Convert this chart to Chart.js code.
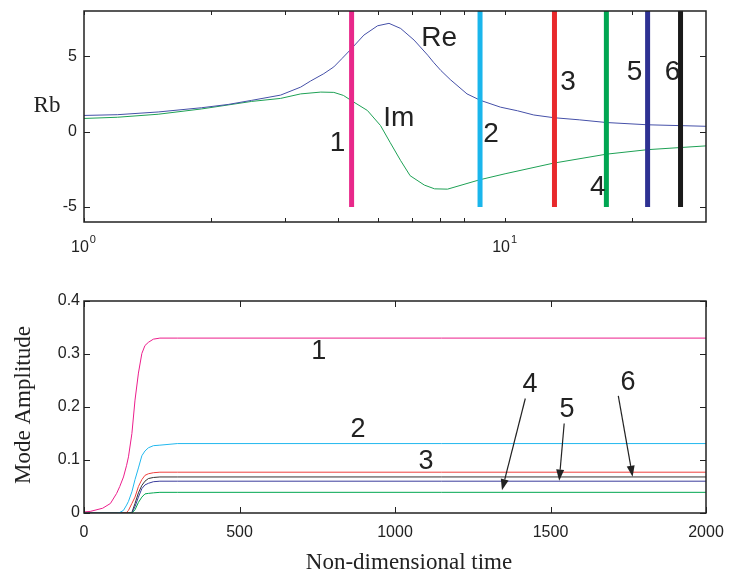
<!DOCTYPE html>
<html>
<head>
<meta charset="utf-8">
<script src="https://cdn.jsdelivr.net/npm/chart.js@4.4.1/dist/chart.umd.min.js"></script>
<style>
  body { margin: 0; background: #fff; }
  #wrap { position: relative; width: 732px; height: 584px; }
  canvas { position: absolute; left: 0; }
  #topChart { top: 0; }
  #bottomChart { top: 265px; }
</style>
</head>
<body>
<div id="wrap">
  <canvas id="topChart" width="732" height="265"></canvas>
  <canvas id="bottomChart" width="732" height="319"></canvas>
</div>
<script>
// ===============================
// DATA - top panel (Rb, log axis)
// ===============================
const reX = [1, 1.2, 1.5, 1.9, 2.2, 2.5, 2.93, 3.27, 3.45, 3.71, 3.92, 4.1, 4.3, 4.62, 4.98, 5.3, 5.65, 6.08, 6.55, 6.76, 7.04, 7.41, 8.12, 8.74, 9.75, 10.7, 11.7, 13.06, 15, 17.4, 21.8, 30];
const reY = [1.07, 1.12, 1.3, 1.58, 1.8, 2.07, 2.42, 2.95, 3.35, 3.84, 4.29, 4.85, 5.45, 6.4, 7.02, 7.18, 6.84, 6.07, 5.07, 4.6, 4.05, 3.45, 2.5, 2.07, 1.62, 1.38, 1.1, 0.92, 0.78, 0.6, 0.45, 0.35];
const imX = [1, 1.2, 1.5, 1.9, 2.5, 2.93, 3.27, 3.65, 3.92, 4.13, 4.37, 4.71, 5.06, 5.33, 5.65, 5.95, 6.43, 6.8, 7.3, 8.7, 10, 13, 17.4, 21.8, 30];
const imY = [0.87, 0.95, 1.15, 1.5, 2.0, 2.2, 2.5, 2.62, 2.6, 2.4, 1.96, 1.4, 0.4, -0.71, -1.93, -2.93, -3.55, -3.8, -3.82, -3.2, -2.8, -2.1, -1.5, -1.2, -0.95];

// mode positions (vertical markers) and their extent in Rb
const modeFreq = [4.32, 8.72, 13.1, 17.4, 21.8, 26.1];
const modeBarLow = -5;
const modeBarHigh = 8;

const topXMajor = [1, 10];
const topXExp = ["0", "1"];
const topXMinor = [2, 3, 4, 5, 6, 7, 8, 20];
const topYTicks = [-5, 0, 5];

// ===============================
// DATA - bottom panel (mode amplitude vs time)
// ===============================
const timeSteps = [0, 20, 60, 85, 105, 115, 127, 137, 143, 154, 164, 175, 186, 196, 207, 223, 244, 300, 2000];
const mode1 = [0.002, 0.003, 0.009, 0.018, 0.037, 0.05, 0.068, 0.09, 0.106, 0.15, 0.213, 0.264, 0.301, 0.316, 0.322, 0.328, 0.33, 0.33, 0.33];
const mode2 = [0, 0, 0, 0, 0, 0.001, 0.005, 0.015, 0.022, 0.04, 0.063, 0.085, 0.108, 0.117, 0.123, 0.127, 0.128, 0.131, 0.131];
const mode3 = [0, 0, 0, 0, 0, 0, 0, 0.001, 0.005, 0.018, 0.03, 0.05, 0.063, 0.071, 0.074, 0.076, 0.077, 0.077, 0.077];
const mode4 = [0, 0, 0, 0, 0, 0, 0, 0, 0, 0, 0.006, 0.02, 0.03, 0.036, 0.037, 0.038, 0.039, 0.039, 0.039];
const mode5 = [0, 0, 0, 0, 0, 0, 0, 0, 0, 0, 0.012, 0.03, 0.046, 0.053, 0.056, 0.059, 0.06, 0.06, 0.06];
const mode6 = [0, 0, 0, 0, 0, 0, 0, 0, 0, 0.001, 0.018, 0.038, 0.052, 0.06, 0.065, 0.067, 0.068, 0.068, 0.068];

const botXTicks = [0, 500, 1000, 1500, 2000];
const botYTicks = [0, 0.1, 0.2, 0.3, 0.4];

// colours of the six modes
const modeColors = ["#e8288a", "#1ab6ec", "#e8292c", "#00a652", "#2e3192", "#1a1a1a"];
const curveColors = ["#ec1e8c", "#22b8ee", "#f0403c", "#00a650", "#3a3c9c", "#333333"];

// text annotations (data coordinates)
const topNotes = [
  { text: "Re", x: 6.97, y: 6.2 },
  { text: "Im", x: 5.59, y: 0.87 },
  { text: "1", x: 4.0, y: -0.8 },
  { text: "2", x: 9.26, y: -0.2 },
  { text: "3", x: 14.1, y: 3.27 },
  { text: "4", x: 16.6, y: -3.67 },
  { text: "5", x: 20.3, y: 3.93 },
  { text: "6", x: 25.0, y: 3.93 }
];
const botNotes = [
  { text: "1", x: 755, y: 0.304 },
  { text: "2", x: 881, y: 0.158 },
  { text: "3", x: 1100, y: 0.098 },
  { text: "4", x: 1434, y: 0.243 },
  { text: "5", x: 1553, y: 0.196 },
  { text: "6", x: 1749, y: 0.247 }
];
const botArrows = [
  { from: [1419, 0.216], to: [1344, 0.043] },
  { from: [1544, 0.169], to: [1528, 0.061] },
  { from: [1718, 0.221], to: [1764, 0.0685] }
];

const INK = "#222";
const SANS = '"Liberation Sans", Arial, sans-serif';
const SERIF = '"Liberation Serif", "Times New Roman", serif';

// ===============================
// MATLAB-like frame: box, inward ticks, labels, notes
// ===============================
const framePlugin = {
  id: "frame",
  afterDraw(chart, args, o) {
    const ctx = chart.ctx;
    const a = chart.chartArea;
    const xs = chart.scales.x;
    const ys = chart.scales.y;
    ctx.save();

    // notes
    ctx.fillStyle = INK;
    ctx.font = o.noteFont;
    ctx.textAlign = "center";
    ctx.textBaseline = "middle";
    (o.notes || []).forEach(n => {
      ctx.fillText(n.text, xs.getPixelForValue(n.x), ys.getPixelForValue(n.y));
    });

    // arrows
    ctx.strokeStyle = INK;
    ctx.lineWidth = 1.2;
    (o.arrows || []).forEach(ar => {
      const x1 = xs.getPixelForValue(ar.from[0]), y1 = ys.getPixelForValue(ar.from[1]);
      const x2 = xs.getPixelForValue(ar.to[0]), y2 = ys.getPixelForValue(ar.to[1]);
      const ang = Math.atan2(y2 - y1, x2 - x1);
      const hl = 11, hw = 4;
      const bx = x2 - hl * Math.cos(ang), by = y2 - hl * Math.sin(ang);
      ctx.beginPath();
      ctx.moveTo(x1, y1);
      ctx.lineTo(bx, by);
      ctx.stroke();
      ctx.beginPath();
      ctx.moveTo(x2, y2);
      ctx.lineTo(bx + hw * Math.sin(ang), by - hw * Math.cos(ang));
      ctx.lineTo(bx - hw * Math.sin(ang), by + hw * Math.cos(ang));
      ctx.closePath();
      ctx.fillStyle = INK;
      ctx.fill();
    });

    // ticks
    ctx.strokeStyle = INK;
    ctx.lineWidth = 1;
    const xt = (o.xMajor || []).concat(o.xMinor || []);
    xt.forEach(v => {
      const px = Math.round(xs.getPixelForValue(v)) + 0.5;
      ctx.beginPath();
      ctx.moveTo(px, a.bottom); ctx.lineTo(px, a.bottom - o.xTickLen);
      ctx.moveTo(px, a.top); ctx.lineTo(px, a.top + o.xTickLen);
      ctx.stroke();
    });
    (o.yTicks || []).forEach(v => {
      const py = Math.round(ys.getPixelForValue(v)) + 0.5;
      ctx.beginPath();
      ctx.moveTo(a.left, py); ctx.lineTo(a.left + o.yTickLen, py);
      ctx.moveTo(a.right, py); ctx.lineTo(a.right - o.yTickLen, py);
      ctx.stroke();
    });

    // box
    ctx.lineWidth = 1.5;
    ctx.strokeRect(a.left, a.top, a.right - a.left, a.bottom - a.top);

    // tick labels
    ctx.fillStyle = INK;
    ctx.font = "16px " + SANS;
    ctx.textBaseline = "middle";
    ctx.textAlign = "right";
    (o.yTicks || []).forEach(v => {
      ctx.fillText(o.yFmt(v), a.left - o.yLabelGap, ys.getPixelForValue(v));
    });
    if (o.xExp) {
      (o.xMajor || []).forEach((v, i) => {
        const px = xs.getPixelForValue(v);
        ctx.font = "16px " + SANS;
        const w1 = ctx.measureText("10").width;
        ctx.font = "11px " + SANS;
        const w2 = ctx.measureText(o.xExp[i]).width;
        const x0 = px - (w1 + w2) / 2 - 1;
        ctx.textAlign = "left";
        ctx.font = "16px " + SANS;
        ctx.fillText("10", x0, a.bottom + o.xLabelGap);
        ctx.font = "11px " + SANS;
        ctx.fillText(o.xExp[i], x0 + w1 + 1, a.bottom + o.xLabelGap - 8);
      });
    } else {
      ctx.textAlign = "center";
      (o.xMajor || []).forEach(v => {
        ctx.fillText(String(v), xs.getPixelForValue(v), a.bottom + o.xLabelGap);
      });
    }

    // axis titles
    ctx.font = "23px " + SERIF;
    if (o.yTitle) {
      ctx.save();
      ctx.translate(o.yTitle.x, o.yTitle.y);
      ctx.rotate(o.yTitle.rot || 0);
      ctx.textAlign = "center";
      ctx.fillText(o.yTitle.text, 0, 0);
      ctx.restore();
    }
    if (o.xTitle) {
      ctx.textAlign = "center";
      ctx.fillText(o.xTitle.text, o.xTitle.x, o.xTitle.y);
    }
    ctx.restore();
  }
};

function pairs(xsArr, ysArr) {
  return xsArr.map((x, i) => ({ x: x, y: ysArr[i] }));
}

function lineSet(data, color, width) {
  return {
    data: data,
    borderColor: color,
    borderWidth: width,
    pointRadius: 0,
    tension: 0,
    fill: false
  };
}

function createTopChart() {
  const sets = [];
  modeFreq.forEach((f, i) => {
    sets.push(lineSet([{ x: f, y: modeBarLow }, { x: f, y: modeBarHigh }], modeColors[i], 5));
  });
  sets.push(lineSet(pairs(reX, reY), "#4550a8", 1));
  sets.push(lineSet(pairs(imX, imY), "#1ea155", 1));

  return new Chart(document.getElementById("topChart"), {
    type: "line",
    data: { datasets: sets },
    options: {
      responsive: false,
      animation: false,
      devicePixelRatio: 1,
      layout: { padding: { left: 84, right: 26, top: 11, bottom: 43 } },
      plugins: {
        legend: { display: false },
        tooltip: { enabled: false },
        frame: {
          notes: topNotes,
          noteFont: "28px " + SANS,
          xMajor: topXMajor,
          xMinor: topXMinor,
          xExp: topXExp,
          yTicks: topYTicks,
          yFmt: v => String(v),
          xTickLen: 4,
          yTickLen: 6,
          yLabelGap: 7,
          xLabelGap: 26,
          yTitle: { text: "Rb", x: 47, y: 106, rot: 0 }
        }
      },
      scales: {
        x: { type: "logarithmic", min: 1, max: 30, display: false },
        y: { type: "linear", min: -6, max: 8, display: false }
      }
    },
    plugins: [framePlugin]
  });
}

function createBottomChart() {
  const modes = [mode1, mode2, mode3, mode4, mode5, mode6];
  const sets = modes.map((m, i) => lineSet(pairs(timeSteps, m), curveColors[i], 1));

  return new Chart(document.getElementById("bottomChart"), {
    type: "line",
    data: { datasets: sets },
    options: {
      responsive: false,
      animation: false,
      devicePixelRatio: 1,
      layout: { padding: { left: 84, right: 26, top: 36, bottom: 71 } },
      plugins: {
        legend: { display: false },
        tooltip: { enabled: false },
        frame: {
          notes: botNotes,
          arrows: botArrows,
          noteFont: "27px " + SANS,
          xMajor: botXTicks,
          xMinor: [],
          yTicks: botYTicks,
          yFmt: v => (v === 0 ? "0" : v.toFixed(1)),
          xTickLen: 6,
          yTickLen: 6,
          yLabelGap: 4,
          xLabelGap: 20,
          yTitle: { text: "Mode Amplitude", x: 24, y: 140, rot: -Math.PI / 2 },
          xTitle: { text: "Non-dimensional time", x: 409, y: 298 }
        }
      },
      scales: {
        x: { type: "linear", min: 0, max: 2000, display: false },
        y: { type: "linear", min: 0, max: 0.4, display: false }
      }
    },
    plugins: [framePlugin]
  });
}

createTopChart();
createBottomChart();
</script>
</body>
</html>
